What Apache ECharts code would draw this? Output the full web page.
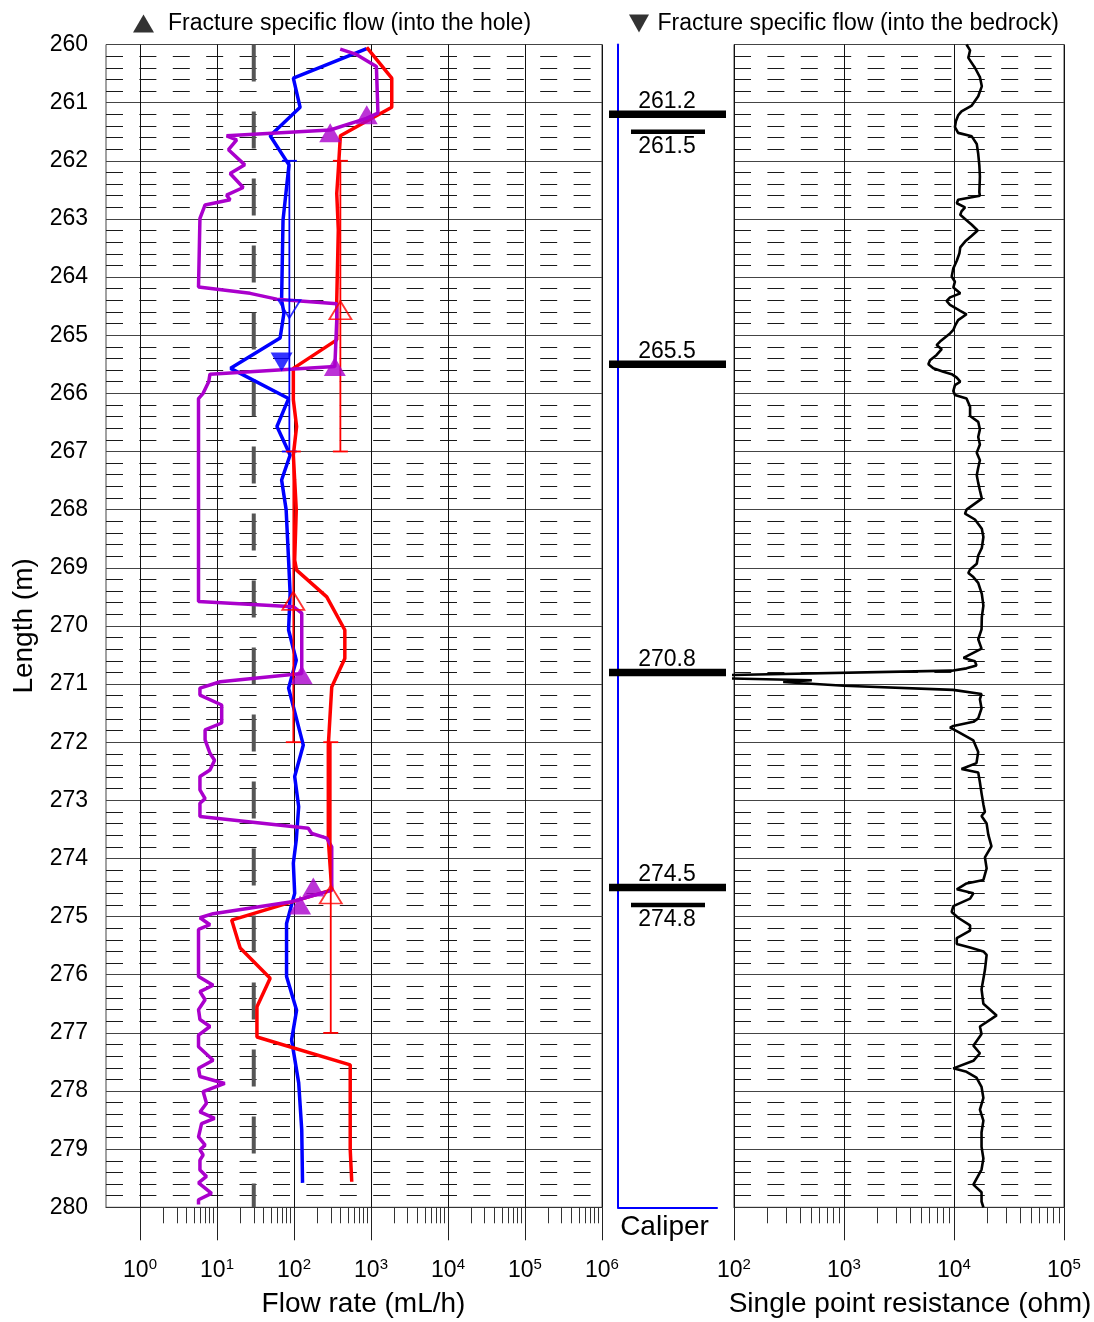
<!DOCTYPE html>
<html><head><meta charset="utf-8">
<script src="https://cdn.jsdelivr.net/npm/echarts@6/dist/echarts.min.js"></script>
<style>html,body{margin:0;padding:0;background:#fff}#c{width:1094px;height:1322px}</style>
</head><body><div id="c"></div>
<script>
// ---------- DATA ----------
const flowTicks = [1, 10, 100, 1000, 10000, 100000, 1000000];
const sprTicks = [100, 1000, 10000, 100000];
const depthMin = 260, depthMax = 280;
const lowerLimit = 30; // mL/h
const limitDepths = [260, 280];

// [depth (m), flow (mL/h)]
const blueFlow = [[260.07,880],[260.58,98],[261.08,120],[261.57,49],[262.07,86],[263.02,72],[264.39,69],[264.62,74],[265.05,66],[265.57,15],[266.09,85],[266.57,60],[267.06,89],[267.49,69],[268.0,79],[268.87,85],[269.44,89],[270.07,85],[270.59,107],[271.07,85],[272.05,132],[272.59,102],[273.11,115],[273.68,107],[274.08,98],[274.6,102],[275.12,80],[276.03,80],[276.61,108],[277.12,93],[277.86,115],[278.67,126],[279.58,129]];
const redFlow = [[260.05,880],[260.58,1860],[261.08,1860],[261.57,400],[262.16,376],[262.56,359],[263.19,376],[264.39,359],[265.08,359],[265.57,98],[266.11,98],[266.57,108],[267.06,98],[267.49,102],[268.0,107],[268.87,102],[269.04,108],[269.5,266],[270.07,457],[270.56,457],[271.05,309],[272.05,279],[273.68,279],[274.54,309],[275.06,15.5],[275.54,20],[276.06,49],[276.55,33],[277.07,33],[277.55,537],[279.01,537],[279.56,562]];
const purpleFlow = [[260.08,398],[260.17,646],[260.38,1175],[261.18,1230],[261.27,870],[261.47,295],[261.57,13.3],[261.64,18],[261.81,14.1],[262.07,22.9],[262.22,14.8],[262.46,21.9],[262.59,13.3],[262.67,14.8],[262.76,7.0],[262.99,6.0],[264.17,5.75],[264.28,26.9],[264.38,59.6],[264.46,359],[264.74,359],[265.54,339],[265.67,8.1],[265.8,7.8],[266.0,6.6],[266.09,5.75],[269.58,5.75],[269.67,98],[269.78,126],[270.82,126],[270.96,11],[271.07,6.0],[271.19,6.0],[271.36,11.5],[271.67,11.5],[271.79,7.0],[271.96,7.0],[272.19,8.1],[272.31,9.3],[272.48,8.1],[272.59,6.0],[272.82,6.0],[272.97,7.0],[273.05,6.0],[273.28,6.0],[273.48,153],[273.57,170],[273.65,266],[273.8,309],[274.55,309],[274.75,89],[274.95,8.9],[275.02,6.0],[275.14,8.1],[275.22,5.75],[276.03,5.75],[276.18,8.9],[276.29,6.0],[276.43,7.0],[276.6,5.75],[276.77,6.0],[276.89,8.1],[277.04,5.75],[277.24,5.75],[277.47,8.9],[277.61,5.75],[277.75,6.0],[277.87,12.6],[278.01,6.6],[278.21,7.3],[278.36,6.0],[278.47,9.3],[278.56,6.3],[278.79,5.75],[278.93,7.0],[279.01,6.0],[279.1,6.6],[279.19,6.0],[279.36,6.0],[279.47,7.3],[279.58,5.75],[279.76,8.5],[279.87,5.75],[279.95,5.75]];

// fracture specific flows [depth, flow]
const fracIntoHole = [[261.21,880],[261.52,295],[265.54,339],[270.84,126],[274.49,178],[274.8,120]];
const fracIntoBedrock = [[265.46,69]];

// 5 m sections [top, bottom, flow]
const blueSections = [[262,267,87]];
const redSections = [[262,267,400],[267,272,98],[272,277,300]];
// section mid markers [depth, flow]
const blueSectionMarks = [[264.55,87]];
const redSectionMarks = [[264.57,400],[269.57,98],[274.62,300]];

// fractures in caliper column
const fractureDepths = [261.2, 261.5, 265.5, 270.8, 274.5, 274.8];
const fractureMain = [1, 0, 1, 1, 1, 0];

// single point resistance [depth, ohm]
const sprData = [[260.00,13000],[260.10,14000],[260.23,13500],[260.40,15500],[260.56,17200],[260.72,17900],[260.89,16600],[261.05,14500],[261.15,11700],[261.22,10900],[261.32,10400],[261.42,10200],[261.52,10900],[261.58,14500],[261.71,16100],[261.88,16600],[262.08,17000],[262.27,17200],[262.54,17000],[262.60,17200],[262.67,10900],[262.73,10600],[262.80,12600],[262.87,11700],[262.93,11400],[263.00,12600],[263.10,14500],[263.20,16400],[263.29,14500],[263.39,12600],[263.49,11400],[263.59,11200],[263.72,10600],[263.85,9860],[263.99,9530],[264.08,10200],[264.18,9860],[264.28,11400],[264.35,9200],[264.41,8570],[264.48,9200],[264.58,11400],[264.64,13000],[264.74,10900],[264.84,10200],[264.91,9860],[264.97,9200],[265.11,7460],[265.17,6950],[265.24,7730],[265.34,6950],[265.43,6050],[265.50,5850],[265.57,6490],[265.63,8000],[265.67,9530],[265.73,10600],[265.80,11400],[265.86,10200],[265.96,9860],[266.03,10200],[266.09,13000],[266.23,14000],[266.39,14000],[266.49,16600],[266.62,17200],[266.75,16600],[266.88,17200],[267.02,16100],[267.15,17200],[267.28,16600],[267.41,16100],[267.54,16600],[267.67,17200],[267.81,17900],[268.00,13000],[268.07,12600],[268.17,15500],[268.33,17900],[268.47,18500],[268.66,17900],[268.79,16600],[268.93,16100],[269.03,14000],[269.09,13500],[269.16,15000],[269.26,16600],[269.45,17900],[269.65,18500],[269.85,17900],[270.06,17800],[270.23,16600],[270.39,17800],[270.55,12200],[270.61,15500],[270.68,16000],[270.73,13000],[270.77,9550],[270.86,40],[270.89,44],[270.935,510],[270.965,280],[271.03,1000],[271.10,9800],[271.17,17800],[271.26,17200],[271.42,17800],[271.59,16600],[271.65,15000],[271.72,9860],[271.75,9200],[271.81,10600],[271.97,15000],[272.17,16600],[272.36,16000],[272.46,11700],[272.49,11300],[272.52,16600],[272.69,17200],[272.88,17800],[273.07,18500],[273.20,19100],[273.27,17800],[273.40,19800],[273.59,20500],[273.79,21900],[273.98,19100],[274.17,19800],[274.37,18500],[274.43,13000],[274.53,10600],[274.60,15000],[274.69,14000],[274.82,9860],[274.92,9530],[275.02,10900],[275.15,14000],[275.24,14000],[275.37,10600],[275.47,10600],[275.53,14000],[275.60,18500],[275.66,19800],[275.92,19100],[276.25,17800],[276.50,18500],[276.70,24400],[276.76,21900],[276.89,17200],[277.02,17800],[277.22,15000],[277.35,17200],[277.48,15000],[277.61,9860],[277.67,13000],[277.77,16000],[277.93,17800],[278.12,18500],[278.32,17200],[278.51,18500],[278.71,17800],[278.96,17800],[279.16,18500],[279.35,17800],[279.61,15000],[279.74,17800],[279.90,17800],[280.00,18500]];

const legendHole = 'Fracture specific flow (into the hole)';
const legendBedrock = 'Fracture specific flow (into the bedrock)';

// ---------- CHART ----------
const FONT = '"Liberation Sans", Arial, Helvetica, sans-serif';
const PURPLE = '#aa00cc', BLUE = '#0000ff', RED = '#ff0000';
const GRID_TOP = 44.5, GRID_H = 1162.8;

function minorValues(ticks) {
  const out = [];
  for (let i = 0; i < ticks.length - 1; i++) for (let k = 2; k <= 9; k++) out.push(ticks[i] * k);
  return out;
}
const toXY = arr => arr.map(p => [p[1], p[0]]);

const supLabel = (vals) => ({
  show: true,
  customValues: vals,
  margin: 50,
  formatter: v => '{b|10}{s|' + Math.round(Math.log10(v)) + '}',
  rich: {
    b: {fontSize: 23, fontFamily: FONT, color: '#000', lineHeight: 26},
    s: {fontSize: 15, fontFamily: FONT, color: '#000', verticalAlign: 'top', lineHeight: 15}
  }
});

function logAxes(gridIndex, min, max, ticks, name, nameShift) {
  return [{
    type: 'log', logBase: 10, gridIndex, min, max, position: 'bottom',
    axisLine: {show: true, onZero: false, lineStyle: {color: '#333', width: 1}},
    axisTick: {show: true, inside: false, length: 33, customValues: ticks, lineStyle: {color: '#222', width: 1}},
    axisLabel: supLabel(ticks),
    splitLine: {show: true, lineStyle: {color: '#111', width: 1}},
    minorTick: {show: false}, minorSplitLine: {show: false},
    name, nameLocation: 'middle', nameGap: 83,
    nameTextStyle: {fontSize: 28, fontFamily: FONT, color: '#000', padding: [0, 0, 0, nameShift]}
  }, {
    type: 'log', logBase: 10, gridIndex, min, max, position: 'bottom',
    axisLine: {show: false},
    axisTick: {show: true, inside: false, length: 16, customValues: minorValues(ticks), lineStyle: {color: '#333', width: 1}},
    axisLabel: {show: false},
    splitLine: {show: false}
  }];
}

function depthAxis(gridIndex, withGrid, extra) {
  return Object.assign({
    type: 'value', gridIndex, min: depthMin, max: depthMax, interval: 1, inverse: true,
    axisLine: {show: false}, axisTick: {show: false}, axisLabel: {show: false},
    splitLine: {show: withGrid, lineStyle: {color: '#444', width: 1}},
    minorTick: {show: false, splitNumber: 5},
    minorSplitLine: {show: withGrid, lineStyle: {color: '#1a1a1a', width: 1, type: [17, 16.4]}}
  }, extra || {});
}

function sectionRender(color) {
  return function (params, api) {
    const v = api.value(2), t = api.value(0), b = api.value(1);
    const p1 = api.coord([v, t]), p2 = api.coord([v, b]);
    const hw = 7.5, st = {stroke: color, lineWidth: 1.8};
    return {type: 'group', children: [
      {type: 'line', shape: {x1: p1[0], y1: p1[1], x2: p2[0], y2: p2[1]}, style: st},
      {type: 'line', shape: {x1: p1[0] - hw, y1: p1[1], x2: p1[0] + hw, y2: p1[1]}, style: st},
      {type: 'line', shape: {x1: p2[0] - hw, y1: p2[1], x2: p2[0] + hw, y2: p2[1]}, style: st}
    ]};
  };
}

const xAxes = [].concat(
  logAxes(0, 0.3615, 1000000, flowTicks, 'Flow rate (mL/h)', 19),
  [{
    type: 'value', gridIndex: 1, min: 0, max: 1, position: 'bottom',
    axisLine: {show: true, onZero: false, lineStyle: {color: BLUE, width: 2}},
    axisTick: {show: false}, axisLabel: {show: false}, splitLine: {show: false},
    name: 'Caliper', nameLocation: 'middle', nameGap: 6,
    nameTextStyle: {fontSize: 28, fontFamily: FONT, color: '#000', padding: [0, 6, 0, 0]}
  }],
  logAxes(2, 100, 100000, sprTicks, 'Single point resistance (ohm)', 22)
);

const yAxes = [
  depthAxis(0, true, {
    axisLabel: {show: true, margin: 18, fontSize: 23, fontFamily: FONT, color: '#000'},
    name: 'Length (m)', nameLocation: 'middle', nameGap: 68, nameRotate: 90,
    nameTextStyle: {fontSize: 28, fontFamily: FONT, color: '#000'}
  }),
  depthAxis(1, false, {axisLine: {show: true, onZero: false, lineStyle: {color: BLUE, width: 2}}}),
  depthAxis(2, true)
];

const fractureItems = fractureDepths.map((d, i) => [d, fractureMain[i]]);

const option = {
  animation: false,
  backgroundColor: '#fff',
  textStyle: {fontFamily: FONT},
  grid: [
    {left: 106, top: GRID_TOP, width: 496, height: GRID_H, show: true, borderColor: '#444', borderWidth: 1, backgroundColor: 'transparent', outerBoundsMode: 'none'},
    {left: 618, top: GRID_TOP, width: 99, height: GRID_H, show: false, outerBoundsMode: 'none'},
    {left: 734, top: GRID_TOP, width: 330, height: GRID_H, show: true, borderColor: '#444', borderWidth: 1, backgroundColor: 'transparent', outerBoundsMode: 'none'}
  ],
  legend: [
    {left: 128, top: 7, selectedMode: false, itemWidth: 21, itemHeight: 18,
     data: [{name: legendHole, icon: 'triangle', itemStyle: {color: '#000'}}],
     textStyle: {fontSize: 23, fontFamily: FONT, color: '#000', padding: [0, 0, 0, 9]}},
    {left: 624, top: 7, selectedMode: false, itemWidth: 21, itemHeight: 18,
     data: [{name: legendBedrock, icon: 'path://M0,0L20,0L10,18Z', itemStyle: {color: '#000'}}],
     textStyle: {fontSize: 23, fontFamily: FONT, color: '#000', padding: [0, 0, 0, 3]}}
  ],
  xAxis: xAxes,
  yAxis: yAxes,
  series: [
    {name: 'Lower limit', type: 'line', xAxisIndex: 0, yAxisIndex: 0, symbol: 'none',
     data: limitDepths.map(d => [lowerLimit, d]),
     lineStyle: {color: '#555', width: 4, type: [37, 30]}, z: 2},
    {name: 'blue', type: 'line', xAxisIndex: 0, yAxisIndex: 0, symbol: 'none', data: toXY(blueFlow),
     lineStyle: {color: BLUE, width: 3.5}, z: 3},
    {name: 'red', type: 'line', xAxisIndex: 0, yAxisIndex: 0, symbol: 'none', data: toXY(redFlow),
     lineStyle: {color: RED, width: 3.5}, z: 3},
    {name: 'purple', type: 'line', xAxisIndex: 0, yAxisIndex: 0, symbol: 'none', data: toXY(purpleFlow),
     lineStyle: {color: PURPLE, width: 3.5}, z: 3},
    {name: 'blue sections', type: 'custom', xAxisIndex: 0, yAxisIndex: 0, data: blueSections,
     encode: {x: 2, y: [0, 1]}, renderItem: sectionRender(BLUE), z: 4},
    {name: 'red sections', type: 'custom', xAxisIndex: 0, yAxisIndex: 0, data: redSections,
     encode: {x: 2, y: [0, 1]}, renderItem: sectionRender(RED), z: 4},
    {name: 'blue section marks', type: 'scatter', xAxisIndex: 0, yAxisIndex: 0, data: toXY(blueSectionMarks),
     symbol: 'triangle', symbolRotate: 180, symbolSize: [22, 18],
     itemStyle: {color: 'rgba(255,255,255,0)', borderColor: BLUE, borderWidth: 1.8}, z: 5},
    {name: 'red section marks', type: 'scatter', xAxisIndex: 0, yAxisIndex: 0, data: toXY(redSectionMarks),
     symbol: 'triangle', symbolSize: [22, 18],
     itemStyle: {color: 'rgba(255,255,255,0)', borderColor: RED, borderWidth: 1.8}, z: 5},
    {name: legendHole, type: 'scatter', xAxisIndex: 0, yAxisIndex: 0, data: toXY(fracIntoHole),
     symbol: 'triangle', symbolSize: [22, 19], itemStyle: {color: PURPLE}, z: 6},
    {name: legendBedrock, type: 'scatter', xAxisIndex: 0, yAxisIndex: 0, data: toXY(fracIntoBedrock),
     symbol: 'triangle', symbolRotate: 180, symbolSize: [22, 19], itemStyle: {color: BLUE}, z: 6},
    {name: 'SPR', type: 'line', xAxisIndex: 3, yAxisIndex: 2, symbol: 'none', clip: false,
     data: toXY(sprData), lineStyle: {color: '#000', width: 2.6}, z: 7},
    {name: 'fractures', type: 'custom', xAxisIndex: 2, yAxisIndex: 1, data: fractureItems,
     encode: {y: 0}, clip: false, z: 6,
     renderItem: function (params, api) {
       const d = api.value(0), main = api.value(1) === 1;
       const y = api.coord([0, d])[1];
       const cs = params.coordSys;
       const x0 = cs.x;
       const thick = main ? 7.5 : 4.5;
       const xa = main ? x0 - 9 : x0 + 13;
       const xb = main ? x0 + 108 : x0 + 87;
       return {type: 'group', children: [
         {type: 'rect', shape: {x: xa, y: y - thick / 2, width: xb - xa, height: thick}, style: {fill: '#000'}},
         {type: 'text', style: {text: d.toFixed(1), x: x0 + 49, y: main ? y - 12.5 : y + 14.5,
           align: 'center', verticalAlign: 'middle', fill: '#000', font: '23px ' + FONT}}
       ]};
     }}
  ]
};

const chart = echarts.init(document.getElementById('c'), null, {renderer: 'canvas'});
chart.setOption(option);
</script>
</body></html>
